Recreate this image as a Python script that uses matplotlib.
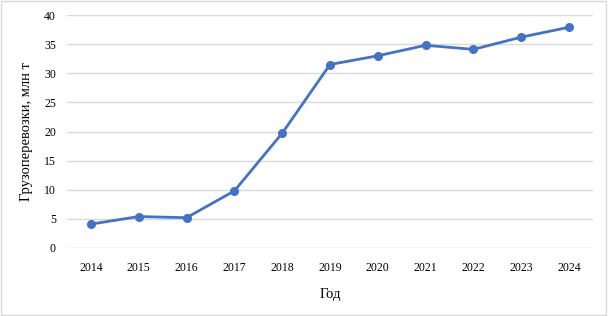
import matplotlib
matplotlib.use("Agg")
import matplotlib.pyplot as plt
from matplotlib.patches import Rectangle

years = ["2014", "2015", "2016", "2017", "2018", "2019", "2020", "2021", "2022", "2023", "2024"]
cargo = [4.1, 5.4, 5.2, 9.8, 19.7, 31.5, 33.0, 34.8, 34.1, 36.2, 37.9]

plt.rcParams['font.family'] = ['Liberation Serif', 'DejaVu Serif']

fig = plt.figure(figsize=(6.08, 3.16), dpi=100)
ax = fig.add_axes([67/608, 1-248/316, (593-67)/608, (248-15)/316])
x = list(range(len(years)))
ax.plot(x, cargo, color="#4472C4", linewidth=2.0, marker="o", markersize=5.5)
ax.set_xlim(-0.5, len(years)-0.5)
ax.set_ylim(0, 40)
ax.set_yticks(range(0, 41, 5))
ax.set_xticks(x)
ax.set_xticklabels(years)
ax.grid(axis="y", color="#D9D9D9", linewidth=1)
ax.set_axisbelow(True)
for s in ax.spines.values():
    s.set_visible(False)
ax.tick_params(length=0, labelsize=8.5, colors="#000000")
ax.tick_params(axis="x", pad=10)
ax.tick_params(axis="y", pad=8)
ax.set_xlabel("Год", fontsize=10.5, labelpad=10)
ax.set_ylabel("Грузоперевозки, млн т", fontsize=10.5, labelpad=8)
fig.patches.append(Rectangle((0.002, 0.003), 0.995, 0.994, transform=fig.transFigure,
                             fill=False, edgecolor="#D9D9D9", linewidth=1))
fig.savefig("out.png", dpi=100)
